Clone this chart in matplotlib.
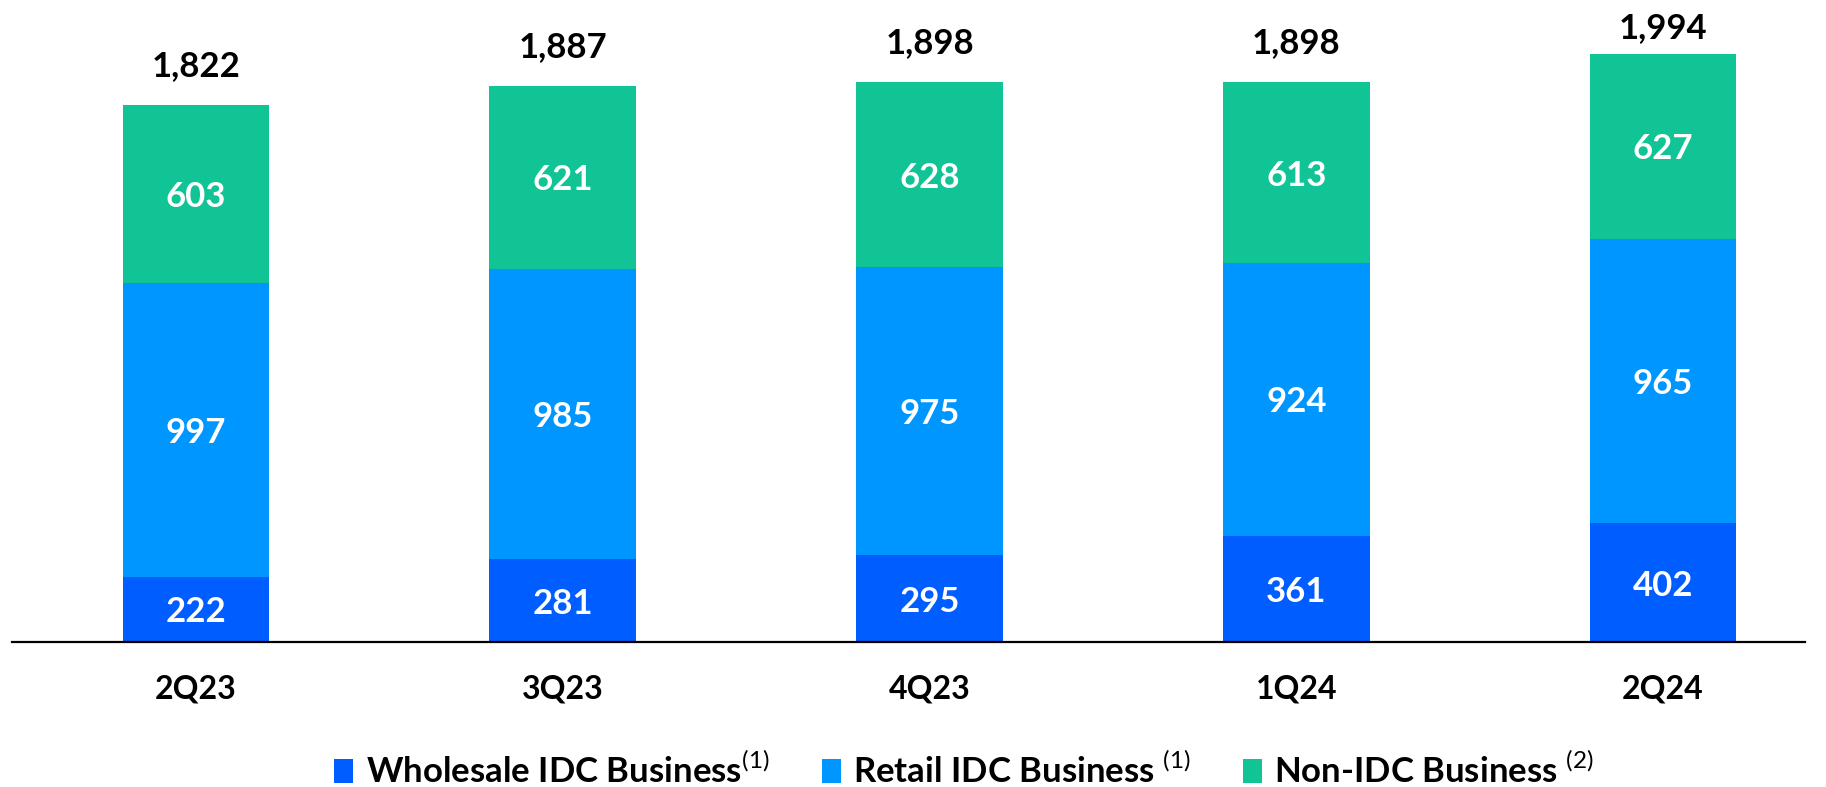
import matplotlib
matplotlib.use("Agg")
import matplotlib.pyplot as plt
import numpy as np

plt.rcParams["font.family"] = ["Lato", "DejaVu Sans"]
plt.rcParams["mathtext.fontset"] = "custom"
plt.rcParams["mathtext.rm"] = "Lato"

quarters = ["2Q23", "3Q23", "4Q23", "1Q24", "2Q24"]
wholesale = [222, 281, 295, 361, 402]
retail = [997, 985, 975, 924, 965]
non_idc = [603, 621, 628, 613, 627]
totals = [1822, 1887, 1898, 1898, 1994]

series_names = [
    r"Wholesale IDC Business$^{\mathrm{(1)}}$",
    r"Retail IDC Business $^{\mathrm{(1)}}$",
    r"Non-IDC Business $^{\mathrm{(2)}}$",
]
colors = ["#005DFF", "#0096FF", "#10C495"]

fig = plt.figure(figsize=(18.26, 7.87), dpi=100)
ax = fig.add_axes([12 / 1826, 145 / 787, 1793 / 1826, 642 / 787])

YMAX = 2177
x = np.arange(len(quarters))
width = 0.4
bottom = np.zeros(len(quarters))
for vals, name, col in zip([wholesale, retail, non_idc], series_names, colors):
    vals = np.array(vals, dtype=float)
    ax.bar(x, vals, width, bottom=bottom, color=col, label=name, zorder=2)
    for xi, b, v in zip(x, bottom, vals):
        ax.text(xi, b + v / 2, f"{int(v)}", ha="center", va="center_baseline",
                color="white", fontsize=25, fontweight="bold", zorder=3)
    bottom += vals

# total above each stack, kept inside the top of the plot area
for xi, top, tot in zip(x, bottom, totals):
    y_lab = min(top + 142, YMAX - 85)
    ax.text(xi, y_lab, f"{tot:,}", ha="center", va="center_baseline",
            fontsize=25, fontweight="bold", color="black")

ax.set_xlim(-0.5017, 4.387)
ax.set_ylim(0, YMAX)
ax.set_xticks(x)
ax.set_xticklabels(quarters, fontsize=23, fontweight="bold")
ax.tick_params(axis="x", length=0, pad=23.5)
ax.set_yticks([])
for side in ["top", "left", "right"]:
    ax.spines[side].set_visible(False)
ax.spines["bottom"].set_linewidth(1.6)
ax.spines["bottom"].set_color("black")
ax.set_facecolor("none")

leg = fig.legend(loc="center", bbox_to_anchor=(0.528, 0.021), ncol=3, frameon=False,
                 prop={"size": 25, "weight": "bold"}, handlelength=0.55, handleheight=0.65,
                 handletextpad=0.36, columnspacing=1.5)

fig.savefig("out.png", dpi=100)
